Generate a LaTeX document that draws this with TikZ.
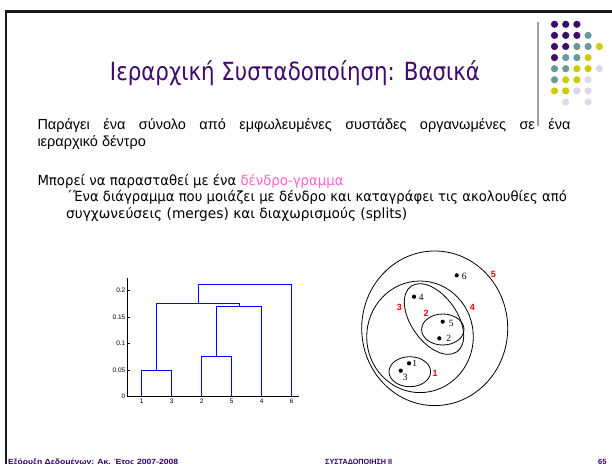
\documentclass[tikz,border=0pt]{standalone}
\usepackage{fontspec}
\usepackage{graphicx}
\setmainfont{Liberation Sans}
\newfontfamily\comicf{DejaVu Sans}
\newfontfamily\timesf{Liberation Serif}
\definecolor{tpurple}{HTML}{3F0A6E}
\definecolor{dp}{HTML}{3D0B6B}
\definecolor{dt}{HTML}{669A9C}
\definecolor{dy}{HTML}{CCCC00}
\definecolor{dl}{HTML}{D9D9EE}
\definecolor{dpink}{HTML}{FF66CC}
\definecolor{foot}{HTML}{330066}
\begin{document}
\begin{tikzpicture}[x=1pt,y=-1pt,
  frame/.style={line width=2.7pt, black!90},
  sep/.style={line width=1.4pt, gray!75},
  txt/.style={anchor=base west, inner sep=0pt},
  axisl/.style={line width=0.6pt, black},
  dendro/.style={line width=1pt, blue},
  ticklab/.style={font=\fontsize{6.5}{7}\selectfont, inner sep=0pt},
  clus/.style={line width=0.8pt, black},
  ptdot/.style={circle, fill=black, inner sep=0pt, minimum size=4.2pt},
  ptlab/.style={font=\timesf\fontsize{9.5}{10}\selectfont, inner sep=0pt},
  rednum/.style={font=\bfseries\fontsize{9}{10}\selectfont, text=red, inner sep=0pt},
  foottxt/.style={anchor=base west, inner sep=0pt, text=foot, font=\bfseries\fontsize{7.5}{8}\selectfont}]
\useasboundingbox (0,0) rectangle (612,463);
\fill[white] (0,0) rectangle (612,463);
\draw[frame] (6,464) -- (6,11.7) -- (613,11.7);
\draw[sep] (538,22) -- (538,126);

% decorative dots
\foreach \r/\c/\col in {1/1/dp,1/2/dp,1/3/dp,
  2/1/dp,2/2/dp,2/3/dp,2/4/dt,
  3/1/dp,3/2/dp,3/3/dt,3/4/dt,3/5/dy,
  4/1/dp,4/2/dt,4/3/dt,4/4/dy,
  5/1/dt,5/2/dt,5/3/dy,5/4/dy,5/5/dl,
  6/1/dt,6/2/dy,6/3/dy,6/4/dl,
  7/1/dy,7/2/dy,7/3/dl,7/4/dl,
  8/2/dl,8/4/dl}
  \fill[\col] ({543.3+11.2*\c},{13.2+11.1*\r}) circle[radius=3.6pt];

% title and text
\node[anchor=base, inner sep=0pt, text=tpurple] (title) at (295,80)
  {\resizebox{370pt}{\height}{\comicf\fontsize{25}{30}\selectfont Ιεραρχική Συσταδοποίηση: Βασικά}};
\node[txt] (l1) at (37.3,129)
  {\fontsize{14.5}{17}\selectfont\makebox[533pt][s]{Παράγει ένα σύνολο από εμφωλευμένες συστάδες οργανωμένες σε ένα}};
\node[txt] (l2) at (37.3,146) {\fontsize{14.5}{17}\selectfont ιεραρχικό δέντρο};
\node[txt] (l3) at (37.3,185)
  {\resizebox{306pt}{\height}{\comicf\fontsize{14}{17}\selectfont Μπορεί να παρασταθεί με ένα \textcolor{dpink}{δένδρο-γραμμα}}};
\node[txt] (l4) at (66,201)
  {\resizebox{500.7pt}{\height}{\comicf\fontsize{14}{17}\selectfont ΄Ένα διάγραμμα που μοιάζει με δένδρο και καταγράφει τις ακολουθίες από}};
\node[txt] (l5) at (66,218)
  {\resizebox{341pt}{\height}{\comicf\fontsize{14}{17}\selectfont συγχωνεύσεις (merges) και διαχωρισμούς (splits)}};

% footer
\node[foottxt] (f1) at (8,464) {\resizebox{170pt}{\height}{Εξόρυξη Δεδομένων: Ακ. Έτος 2007-2008}};
\node[foottxt] (f2) at (325,464) {\resizebox{67pt}{\height}{ΣΥΣΤΑΔΟΠΟΙΗΣΗ ΙΙ}};
\node[foottxt] (f3) at (598,464) {65};

% dendrogram axes
\coordinate (ytop) at (127.7,278);
\coordinate (orig) at (127.7,396.7);
\coordinate (xend) at (299,396.7);
\draw[axisl] (ytop) -- (orig) -- (xend);
\foreach \v/\lab in {0/0,0.05/0.05,0.1/0.1,0.15/0.15,0.2/0.2}{
  \draw[axisl] (127.7,{396.7-530*\v}) -- (130.2,{396.7-530*\v});
  \node[ticklab, anchor=east] at (125.5,{396.7-530*\v}) {\lab};
}
\foreach \x/\lab in {141.7/1,171.7/3,201.7/2,231.7/5,261.7/4,291.7/6}{
  \draw[axisl] (\x,396.7) -- (\x,394.2);
  \node[ticklab, anchor=north] at (\x,399) {\lab};
}
% dendrogram links
\draw[dendro] (141.7,396.7) -- (141.7,370) -- (171.7,370) -- (171.7,396.7);
\draw[dendro] (201.7,396.7) -- (201.7,356) -- (231.7,356) -- (231.7,396.7);
\draw[dendro] (216.7,356) -- (216.7,306) -- (261.7,306) -- (261.7,396.7);
\draw[dendro] (156.7,370) -- (156.7,303) -- (239.2,303) -- (239.2,306);
\draw[dendro] (198,303) -- (198,284) -- (291.7,284) -- (291.7,396.7);

% nested clusters
\draw[clus] (434.7,328.3) ellipse [x radius=73pt, y radius=77.3pt];
\draw[clus] (420,336.8) ellipse [x radius=53.3pt, y radius=55.8pt];
\draw[clus, shift={(434,319)}, rotate=-55] (0,0) ellipse [x radius=40pt, y radius=23pt];
\draw[clus] (442.8,329.5) ellipse [x radius=21.2pt, y radius=15.5pt];
\draw[clus] (409.8,371.7) ellipse [x radius=20.8pt, y radius=15pt];

\node[ptdot] (p6) at (456.7,275.3) {};
\node[ptdot] (p4) at (414,296.7) {};
\node[ptdot] (p5) at (442.7,321.7) {};
\node[ptdot] (p2) at (439.3,338.3) {};
\node[ptdot] (p1) at (409,363.3) {};
\node[ptdot] (p3) at (400.7,370.7) {};
\node[ptlab] (t6) at (464.3,276) {6};
\node[ptlab] (t4) at (421.3,297.3) {4};
\node[ptlab] (t5) at (451.3,323) {5};
\node[ptlab] (t2) at (448.7,338.7) {2};
\node[ptlab] (t1) at (414.7,363.3) {1};
\node[ptlab] (t3) at (405.3,377.3) {3};

\node[rednum] (r5) at (493.3,274) {5};
\node[rednum] (r3) at (399.3,307.3) {3};
\node[rednum] (r2) at (426,313.3) {2};
\node[rednum] (r4) at (472.3,307.3) {4};
\node[rednum] (r1) at (435,373.3) {1};
\end{tikzpicture}
\end{document}
